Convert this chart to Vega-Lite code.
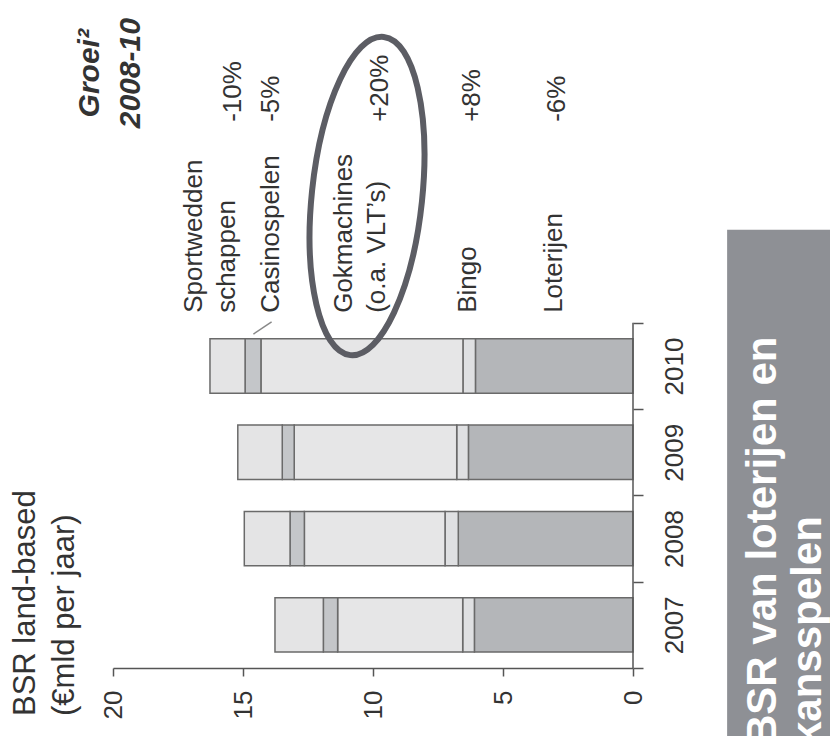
{
  "$schema": "https://vega.github.io/schema/vega-lite/v6.json",
  "width": 520,
  "height": 604,
  "autosize": {"type": "none"},
  "padding": {"left": 113, "top": 64, "right": 197, "bottom": 68},
  "background": "white",
  "config": {"view": {"stroke": null}, "font": "Liberation Sans"},
  "datasets": {
    "balken": [
      {"jaar": "2007", "segment": "Loterijen", "rang": 1, "waarde": 6.10},
      {"jaar": "2007", "segment": "Bingo", "rang": 2, "waarde": 0.45},
      {"jaar": "2007", "segment": "Gokmachines", "rang": 3, "waarde": 4.81},
      {"jaar": "2007", "segment": "Casinospelen", "rang": 4, "waarde": 0.55},
      {"jaar": "2007", "segment": "Sportweddenschappen", "rang": 5, "waarde": 1.86},
      {"jaar": "2008", "segment": "Loterijen", "rang": 1, "waarde": 6.72},
      {"jaar": "2008", "segment": "Bingo", "rang": 2, "waarde": 0.51},
      {"jaar": "2008", "segment": "Gokmachines", "rang": 3, "waarde": 5.41},
      {"jaar": "2008", "segment": "Casinospelen", "rang": 4, "waarde": 0.55},
      {"jaar": "2008", "segment": "Sportweddenschappen", "rang": 5, "waarde": 1.76},
      {"jaar": "2009", "segment": "Loterijen", "rang": 1, "waarde": 6.33},
      {"jaar": "2009", "segment": "Bingo", "rang": 2, "waarde": 0.45},
      {"jaar": "2009", "segment": "Gokmachines", "rang": 3, "waarde": 6.25},
      {"jaar": "2009", "segment": "Casinospelen", "rang": 4, "waarde": 0.46},
      {"jaar": "2009", "segment": "Sportweddenschappen", "rang": 5, "waarde": 1.71},
      {"jaar": "2010", "segment": "Loterijen", "rang": 1, "waarde": 6.06},
      {"jaar": "2010", "segment": "Bingo", "rang": 2, "waarde": 0.48},
      {"jaar": "2010", "segment": "Gokmachines", "rang": 3, "waarde": 7.77},
      {"jaar": "2010", "segment": "Casinospelen", "rang": 4, "waarde": 0.61},
      {"jaar": "2010", "segment": "Sportweddenschappen", "rang": 5, "waarde": 1.35}
    ],
    "labels": [
      {"naam": "Sportwedden\nschappen", "groei": "-10%", "xl": 16.88, "xg": 15.38},
      {"naam": "Casinospelen", "groei": "-5%", "xl": 13.92, "xg": 13.92},
      {"naam": "Gokmachines\n(o.a. VLT’s)", "groei": "+20%", "xl": 11.12, "xg": 9.73},
      {"naam": "Bingo", "groei": "+8%", "xl": 6.35, "xg": 6.2},
      {"naam": "Loterijen", "groei": "-6%", "xl": 3.04, "xg": 2.92}
    ]
  },
  "layer": [
    {
      "data": {"name": "balken"},
      "mark": {"type": "bar", "height": {"band": 0.63}, "stroke": "#6a6a6a", "strokeWidth": 1.5},
      "encoding": {
        "x": {"field": "waarde", "type": "quantitative", "stack": "zero",
              "scale": {"domain": [0, 20], "reverse": true, "nice": false, "zero": false},
              "axis": {"values": [0, 5, 10, 15, 20], "orient": "bottom", "labelAngle": -90, "labelAlign": "right", "labelBaseline": "middle", "tickSize": 8, "labelPadding": 14, "title": null, "grid": false, "labelFontSize": 26, "labelFont": "Liberation Sans", "labelColor": "#333", "domainColor": "#555", "tickColor": "#555", "domainWidth": 1.5, "tickWidth": 1.5, "labelFlush": false, "labelOverlap": false}},
        "y": {"field": "jaar", "type": "nominal",
              "scale": {"type": "band", "domain": ["kop", "groei", "legenda", "2010", "2009", "2008", "2007"], "paddingInner": 0, "paddingOuter": 0},
              "axis": {"orient": "right", "values": ["2010", "2009", "2008", "2007"], "tickBand": "extent", "domain": false, "labelAngle": -90, "labelAlign": "center", "labelBaseline": "top", "labelPadding": 18, "tickSize": 10, "title": null, "labelFontSize": 26, "labelFont": "Liberation Sans", "labelColor": "#333", "tickColor": "#555", "tickWidth": 1.5, "labelOverlap": false}},
        "color": {"field": "segment", "type": "nominal",
                  "scale": {"domain": ["Loterijen", "Bingo", "Gokmachines", "Casinospelen", "Sportweddenschappen"], "range": ["#b4b6b9", "#dfe0e2", "#e6e6e7", "#c4c6c9", "#e4e4e5"]},
                  "legend": null},
        "order": {"field": "rang", "type": "quantitative"}
      }
    },
    {
      "data": {"values": [{}]},
      "mark": {"type": "rect", "color": "#8e9095", "y2Offset": 90},
      "encoding": {
        "x": {"datum": -3.62, "type": "quantitative"},
        "x2": {"datum": -12},
        "y": {"datum": "groei", "type": "nominal", "bandPosition": 0.92},
        "y2": {"datum": "2007", "bandPosition": 1}
      }
    },
    {
      "data": {"values": [{}]},
      "mark": {"type": "rule", "color": "#555", "strokeWidth": 1.5},
      "encoding": {
        "x": {"datum": 0, "type": "quantitative"},
        "y": {"datum": "2010", "type": "nominal", "bandPosition": 0},
        "y2": {"datum": "2007", "bandPosition": 1}
      }
    },
    {
      "data": {"values": [{}]},
      "mark": {"type": "rule", "color": "#888", "strokeWidth": 1.5},
      "encoding": {
        "x": {"datum": 14.6, "type": "quantitative"},
        "x2": {"datum": 13.9},
        "y": {"datum": "2010", "type": "nominal", "bandPosition": 0.13},
        "y2": {"datum": "legenda", "bandPosition": 0.99}
      }
    },
    {
      "data": {"values": [{}]},
      "mark": {"type": "point", "shape": "M 0 -1 C 0.19 -1 0.345 -0.5523 0.345 0 C 0.345 0.5523 0.19 1 0 1 C -0.19 1 -0.345 0.5523 -0.345 0 C -0.345 -0.5523 -0.19 -1 0 -1 Z", "size": 102400, "angle": 6, "filled": false, "stroke": "#5c5d64", "strokeWidth": 6, "opacity": 1},
      "encoding": {
        "x": {"datum": 10.23, "type": "quantitative"},
        "y": {"datum": "groei", "type": "nominal", "bandPosition": 0.53}
      }
    },
    {
      "data": {"values": [{}]},
      "mark": {"type": "text", "text": ["Groei²", "2008-10"], "angle": -90, "align": "center", "baseline": "middle", "font": "Liberation Sans", "fontSize": 30, "fontWeight": "bold", "fontStyle": "italic", "lineHeight": 41, "color": "#333"},
      "encoding": {
        "x": {"datum": 20.88, "type": "quantitative"},
        "y": {"datum": "kop", "type": "nominal", "bandPosition": 0.107}
      }
    },
    {
      "data": {"name": "labels"},
      "mark": {"type": "text", "angle": -90, "align": "left", "baseline": "middle", "font": "Liberation Sans", "fontSize": 26, "lineHeight": 33, "lineBreak": "\n", "color": "#333"},
      "encoding": {
        "x": {"field": "xl", "type": "quantitative"},
        "y": {"datum": "legenda", "type": "nominal", "bandPosition": 0.884},
        "text": {"field": "naam"}
      }
    },
    {
      "data": {"name": "labels"},
      "mark": {"type": "text", "angle": -90, "align": "left", "baseline": "middle", "font": "Liberation Sans", "fontSize": 26, "color": "#333"},
      "encoding": {
        "x": {"field": "xg", "type": "quantitative"},
        "y": {"datum": "kop", "type": "nominal", "bandPosition": 0.67},
        "text": {"field": "groei"}
      }
    },
    {
      "data": {"values": [{}]},
      "mark": {"type": "text", "text": ["BSR land-based", "(€mld per jaar)"], "angle": -90, "align": "left", "baseline": "middle", "dx": -48, "font": "Liberation Sans", "fontSize": 31, "lineHeight": 39, "color": "#333"},
      "encoding": {
        "x": {"datum": 23.33, "type": "quantitative"},
        "y": {"datum": "2007", "type": "nominal", "bandPosition": 1}
      }
    },
    {
      "data": {"values": [{}]},
      "mark": {"type": "text", "text": ["BSR van loterijen en", "kansspelen"], "angle": -90, "align": "left", "baseline": "middle", "dx": -77, "font": "Liberation Sans", "fontSize": 42, "fontWeight": "bold", "lineHeight": 45, "color": "white"},
      "encoding": {
        "x": {"datum": -5.0, "type": "quantitative"},
        "y": {"datum": "2007", "type": "nominal", "bandPosition": 1}
      }
    }
  ]
}
